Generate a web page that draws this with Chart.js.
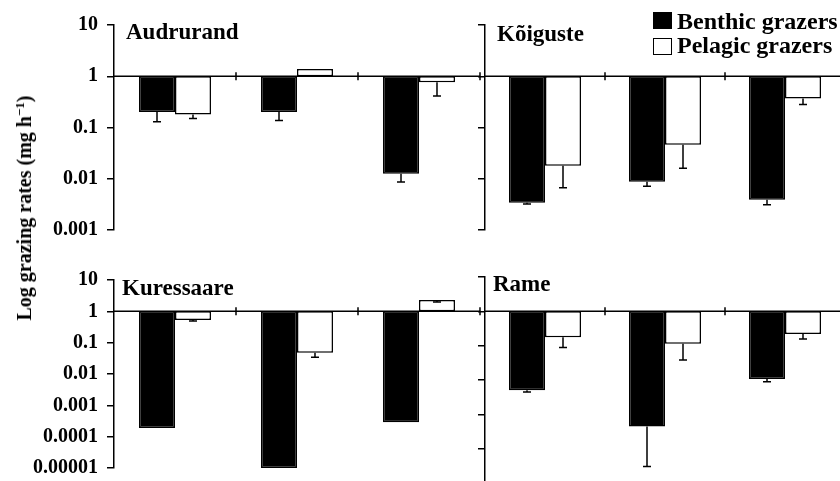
<!DOCTYPE html>
<html>
<head>
<meta charset="utf-8">
<script src="https://cdn.jsdelivr.net/npm/chart.js@4.4.1/dist/chart.umd.min.js"></script>
<style>
  html, body { margin: 0; padding: 0; background: #fff; overflow: hidden; }
  #wrap {
    position: relative; width: 840px; height: 481px; overflow: hidden; background: #fff;
    font-family: 'Liberation Serif', 'Times New Roman', serif; font-weight: bold; color: #000;
  }
  canvas { position: absolute; }
  .lbl { position: absolute; white-space: nowrap; line-height: 1; }
  .title { font-size: 23px; }
  .legend { font-size: 24px; }
  .swatch { position: absolute; box-sizing: border-box; width: 19px; height: 17px; border: 1.5px solid #000; }
  #ytitle {
    position: absolute; left: 24px; top: 208px; font-size: 20px; white-space: nowrap; line-height: 1;
    transform: translate(-50%, -50%) rotate(-90deg);
  }
  #ytitle sup { font-size: 13px; vertical-align: 7px; line-height: 0; }
</style>
</head>
<body>
<div id="wrap">
  <canvas id="cAud" width="482" height="255" style="left:0;top:0"></canvas>
  <canvas id="cKoi" width="375" height="245" style="left:470px;top:0"></canvas>
  <canvas id="cKur" width="482" height="243" style="left:0;top:250px"></canvas>
  <canvas id="cRam" width="375" height="248" style="left:470px;top:250px"></canvas>

  <div class="lbl title" style="left:126px;top:20px">Audrurand</div>
  <div class="lbl title" style="left:497px;top:22px">Kõiguste</div>
  <div class="lbl title" style="left:122px;top:276px">Kuressaare</div>
  <div class="lbl title" style="left:493px;top:272px">Rame</div>

  <div class="swatch" style="left:653px;top:12px;background:#000"></div>
  <div class="lbl legend" style="left:677px;top:9px">Benthic grazers</div>
  <div class="swatch" style="left:653px;top:38px;background:#fff"></div>
  <div class="lbl legend" style="left:677px;top:33px">Pelagic grazers</div>

  <div id="ytitle">Log grazing rates (mg h<sup>−1</sup>)</div>
</div>

<script>
// three sampling groups per site, no labels on the x axis
const categories = ['1', '2', '3']

const tickValues = [10, 1, 0.1, 0.01, 0.001, 0.0001, 0.00001]
const tickLabels = ['10', '1', '0.1', '0.01', '0.001', '0.0001', '0.00001']

const audrurandBenthic = [0.2, 0.2, 0.0125]
const audrurandBenthicErr = [0.13, 0.137, 0.0086]
const audrurandPelagic = [0.18, 1.38, 0.76]
const audrurandPelagicErr = [0.15, null, 0.41]

const koigusteBenthic = [0.0034, 0.0087, 0.0039]
const koigusteBenthicErr = [0.0032, 0.0071, 0.0031]
const koigustePelagic = [0.018, 0.046, 0.37]
const koigustePelagicErr = [0.0067, 0.016, 0.28]

const kuressaareBenthic = [0.00019, 0.00001, 0.00029]
const kuressaareBenthicErr = [null, null, null]
const kuressaarePelagic = [0.53, 0.048, 2.3]
const kuressaarePelagicErr = [0.49, 0.034, 2.0]

const rameBenthic = [0.005, 0.00044, 0.0107]
const rameBenthicErr = [0.0045, 0.00003, 0.0089]
const ramePelagic = [0.175, 0.114, 0.22]
const ramePelagicErr = [0.089, 0.038, 0.156]

const BLACK = '#000'
const LINE_W = 1.5

// bars hang from 1, plus error whiskers and the crossing category ticks
const panelDecor = {
  id: 'panelDecor',
  afterDatasetsDraw(chart) {
    const ctx = chart.ctx
    const x = chart.scales.x
    const y = chart.scales.y
    const area = chart.chartArea
    const y1 = y.getPixelForValue(1)

    ctx.save()
    ctx.strokeStyle = BLACK
    ctx.lineWidth = LINE_W

    chart.data.datasets.forEach((ds, i) => {
      const meta = chart.getDatasetMeta(i)
      meta.data.forEach((bar, j) => {
        const err = ds.errors[j]
        if (err == null) return
        const yv = y.getPixelForValue(ds.values[j])
        const ye = y.getPixelForValue(err)
        ctx.beginPath()
        ctx.moveTo(bar.x, yv)
        ctx.lineTo(bar.x, ye)
        ctx.moveTo(bar.x - 4, ye)
        ctx.lineTo(bar.x + 4, ye)
        ctx.stroke()
      })
    })

    ctx.beginPath()
    ctx.moveTo(area.left, y1)
    ctx.lineTo(area.right, y1)
    const step = x.getPixelForValue(1) - x.getPixelForValue(0)
    categories.forEach((c, i) => {
      const bx = x.getPixelForValue(i) + step / 2
      ctx.moveTo(bx, y1 - 4)
      ctx.lineTo(bx, y1 + 4)
    })
    ctx.stroke()
    ctx.restore()
  }
}

function barSet(values, errors, fill) {
  return {
    data: values.map(v => [1, v]),
    values: values,
    errors: errors,
    backgroundColor: fill,
    borderColor: BLACK,
    borderWidth: LINE_W,
    borderSkipped: false
  }
}

function makePanel(id, benthic, benthicErr, pelagic, pelagicErr, p) {
  new Chart(document.getElementById(id), {
    type: 'bar',
    data: {
      labels: categories,
      datasets: [
        barSet(benthic, benthicErr, BLACK),
        barSet(pelagic, pelagicErr, '#fff')
      ]
    },
    options: {
      responsive: false,
      animation: false,
      devicePixelRatio: 1,
      layout: { padding: p.padding },
      datasets: { bar: { categoryPercentage: p.catPct, barPercentage: 1 } },
      plugins: { legend: { display: false }, tooltip: { enabled: false } },
      scales: {
        x: { type: 'category', display: false },
        y: {
          type: 'logarithmic',
          min: p.min,
          max: 10,
          afterBuildTicks: s => {
            s.ticks = tickValues.filter(v => v >= p.min).map(v => ({ value: v }))
          },
          afterFit: s => { s.width = p.axisW },
          border: { display: true, color: BLACK, width: LINE_W },
          grid: { drawOnChartArea: false, drawTicks: true, tickLength: 7, color: BLACK, lineWidth: LINE_W },
          ticks: {
            display: p.showLabels,
            color: BLACK,
            padding: 9,
            font: { family: "'Liberation Serif', 'Times New Roman', serif", weight: 'bold', size: 20 },
            callback: (v, i, t) => tickLabels[tickValues.indexOf(t[i].value)]
          }
        }
      }
    },
    plugins: [panelDecor]
  })
}

makePanel('cAud', audrurandBenthic, audrurandBenthicErr, audrurandPelagic, audrurandPelagicErr,
  { min: 0.001, axisW: 114, showLabels: true, catPct: 0.59, padding: { top: 25, bottom: 25, left: 0, right: 2 } })
makePanel('cKoi', koigusteBenthic, koigusteBenthicErr, koigustePelagic, koigustePelagicErr,
  { min: 0.001, axisW: 15, showLabels: false, catPct: 0.6, padding: { top: 25, bottom: 15, left: 0, right: 0 } })
makePanel('cKur', kuressaareBenthic, kuressaareBenthicErr, kuressaarePelagic, kuressaarePelagicErr,
  { min: 0.00001, axisW: 114, showLabels: true, catPct: 0.59, padding: { top: 30, bottom: 25, left: 0, right: 2 } })
makePanel('cRam', rameBenthic, rameBenthicErr, ramePelagic, ramePelagicErr,
  { min: 0.00001, axisW: 15, showLabels: false, catPct: 0.6, padding: { top: 27, bottom: 15, left: 0, right: 0 } })
</script>
</body>
</html>
